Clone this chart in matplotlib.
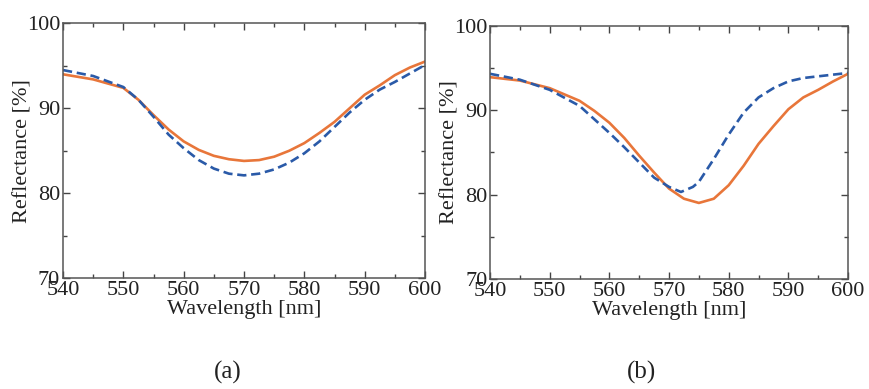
import matplotlib
matplotlib.use("Agg")
import matplotlib.pyplot as plt
from matplotlib.ticker import MultipleLocator

plt.rcParams['font.family'] = ['Liberation Serif', 'DejaVu Serif']

# panel (a)
wl_a = [540, 545, 550, 552.5, 555, 557.5, 560, 562.5, 565, 567.5, 570, 572.5,
        575, 577.5, 580, 582.5, 585, 587.5, 590, 592.5, 595, 597.5, 600]
solid_a = [94.0, 93.4, 92.4, 91.0, 89.2, 87.5, 86.1, 85.1, 84.4, 84.0, 83.8, 83.9,
           84.3, 85.0, 85.9, 87.1, 88.4, 90.0, 91.6, 92.7, 93.9, 94.8, 95.5]
dash_a = [94.5, 93.8, 92.5, 91.0, 89.0, 86.9, 85.3, 83.9, 82.9, 82.3, 82.1, 82.3,
          82.8, 83.6, 84.7, 86.1, 87.8, 89.5, 91.0, 92.2, 93.1, 94.1, 95.1]

# panel (b)
wl_b_solid = [540, 545, 550, 555, 557.5, 560, 562.5, 565, 567.5, 570, 572.5, 575,
              577.5, 580, 582.5, 585, 587.5, 590, 592.5, 595, 597.5, 600]
solid_b = [93.9, 93.5, 92.6, 91.1, 89.9, 88.5, 86.7, 84.6, 82.6, 80.7, 79.5, 79.0,
           79.5, 81.1, 83.4, 86.0, 88.1, 90.1, 91.5, 92.4, 93.4, 94.3]
wl_b_dash = [540, 545, 550, 555, 557.5, 560, 562.5, 565, 567.5, 570, 572, 574, 575,
             577.5, 580, 582.5, 585, 587.5, 590, 592.5, 595, 597.5, 600]
dash_b = [94.3, 93.6, 92.4, 90.5, 88.9, 87.3, 85.6, 83.8, 82.0, 80.9, 80.3, 80.9, 81.5,
          84.2, 87.1, 89.7, 91.5, 92.6, 93.4, 93.8, 94.0, 94.2, 94.4]

orange = '#e8763a'
blue = '#2a5aa8'

fig = plt.figure(figsize=(8.69, 3.89), dpi=100)
ax1 = fig.add_axes([0.0725, 0.285, 0.4166, 0.655])
ax2 = fig.add_axes([0.5639, 0.283, 0.412, 0.651])

panels = [(ax1, wl_a, solid_a, wl_a, dash_a),
          (ax2, wl_b_solid, solid_b, wl_b_dash, dash_b)]

for ax, xs, ys, xd, yd in panels:
    ax.plot(xs, ys, color=orange, lw=1.9, solid_joinstyle='round')
    ax.plot(xd, yd, color=blue, lw=1.9, linestyle=(0, (3.5, 1.8)))
    ax.set_xlim(540, 600)
    ax.set_ylim(70, 100)
    ax.xaxis.set_major_locator(MultipleLocator(10))
    ax.xaxis.set_minor_locator(MultipleLocator(5))
    ax.yaxis.set_major_locator(MultipleLocator(10))
    ax.yaxis.set_minor_locator(MultipleLocator(5))
    ax.tick_params(which='both', direction='in', top=True, right=True,
                   colors='#444444', labelcolor='#222222', labelsize=16, pad=2)
    ax.tick_params(which='major', length=5, width=1)
    ax.tick_params(which='minor', length=3, width=1)
    for s in ax.spines.values():
        s.set_color('#555555')
        s.set_linewidth(1.1)
    ax.set_xlabel('Wavelength [nm]', fontsize=16, color='#222222', labelpad=0)
    ax.set_ylabel('Reflectance [%]', fontsize=16, color='#222222', labelpad=-4)

fig.text(228 / 869, 1 - 372 / 389, '(a)', ha='center', va='center',
         fontsize=18, color='#222222')
fig.text(641 / 869, 1 - 372 / 389, '(b)', ha='center', va='center',
         fontsize=18, color='#222222')

fig.savefig('out.png', dpi=100)
